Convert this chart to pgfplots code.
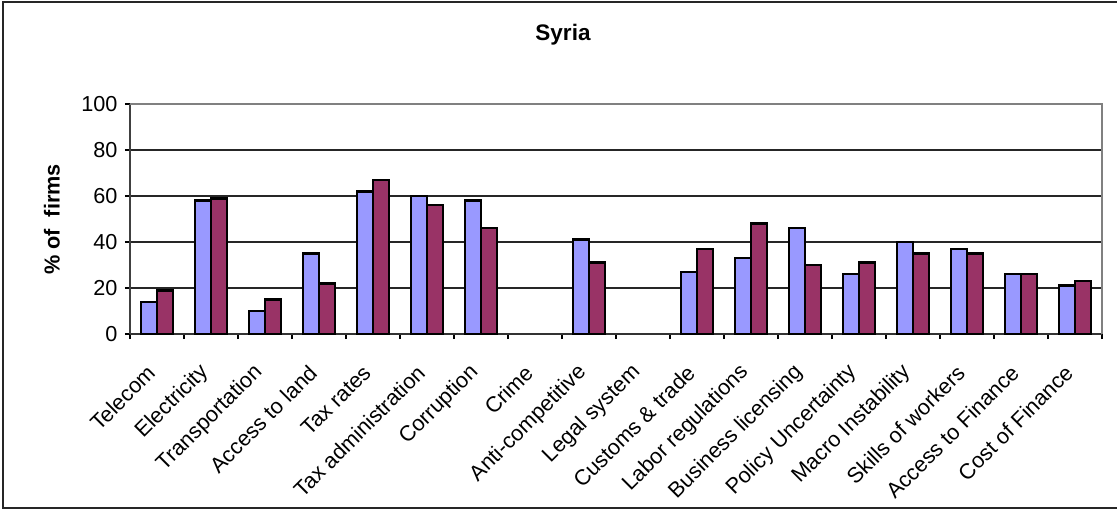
\documentclass[border=0pt]{standalone}
\usepackage{pgfplots}
\pgfplotsset{compat=1.18}
\usepackage{fontspec}
\setmainfont{Liberation Sans}
\definecolor{sblue}{HTML}{9999FF}
\definecolor{sred}{HTML}{993366}
\begin{document}
\begin{tikzpicture}
\begin{axis}[
  scale only axis,
  width=583.2pt, height=138pt,
  at={(0pt,0pt)}, anchor=south west,
  ybar=0pt, bar width=9.6pt,
  xmin=-0.5, xmax=17.5, ymin=0, ymax=100,
  ytick={0,20,...,100},
  xtick={0,...,17},
  xticklabels={Telecom,Electricity,Transportation,Access to land,Tax rates,Tax administration,Corruption,Crime,Anti-competitive,Legal system,Customs \& trade,Labor regulations,Business licensing,Policy Uncertainty,Macro Instability,Skills of workers,Access to Finance,Cost of Finance},
  minor xtick={-0.5,0.5,...,17.5},
  major x tick style={draw=none},
  minor x tick style={black, line width=0.7pt},
  xtick align=outside, ytick align=outside,
  tick style={black, line width=0.7pt},
  major tick length=3pt, minor tick length=3pt,
  ymajorgrids, grid style={black!85, line width=0.7pt},
  axis x line*=bottom, axis y line*=left,
  x axis line style={black!80, line width=1.1pt, -},
  y axis line style={black!75, line width=1.3pt, -},
  /pgf/number format/assume math mode=true,
  tick label style={font=\fontsize{13}{15}\selectfont},
  yticklabel style={xshift=-1pt},
  xticklabel style={xshift=-3.5pt, yshift=-18pt, rotate=45, anchor=east, inner sep=0pt},
  clip=false,
]
\draw[gray, line width=1.3pt] (rel axis cs:0,1) -- (rel axis cs:1,1) -- (rel axis cs:1,0);
\addplot[fill=sblue, draw=black, line width=1.5pt] coordinates {
(0,14) (1,58) (2,10) (3,35) (4,62) (5,60) (6,58) (8,41) (10,27) (11,33) (12,46) (13,26) (14,40) (15,37) (16,26) (17,21)};
\addplot[fill=sred, draw=black, line width=1.5pt] coordinates {
(0,19) (1,59) (2,15) (3,22) (4,67) (5,56) (6,46) (8,31) (10,37) (11,48) (12,30) (13,31) (14,35) (15,35) (16,26) (17,23)};
\end{axis}
\draw[black!85, line width=1pt] (592.2pt,199.2pt) -- (-76.2pt,199.2pt) -- (-76.2pt,-104.4pt) -- (592.2pt,-104.4pt);
\node[font=\fontsize{13.5}{15}\selectfont\bfseries] at (259.8pt,179.5pt) {Syria};
\node[font=\fontsize{13}{15}\selectfont\bfseries, rotate=90] at (-46.8pt,68.7pt) {\% of\ \ firms};
\pgfresetboundingbox
\useasboundingbox (-78pt,-105.6pt) rectangle (592.2pt,200.4pt);
\end{tikzpicture}
\end{document}
